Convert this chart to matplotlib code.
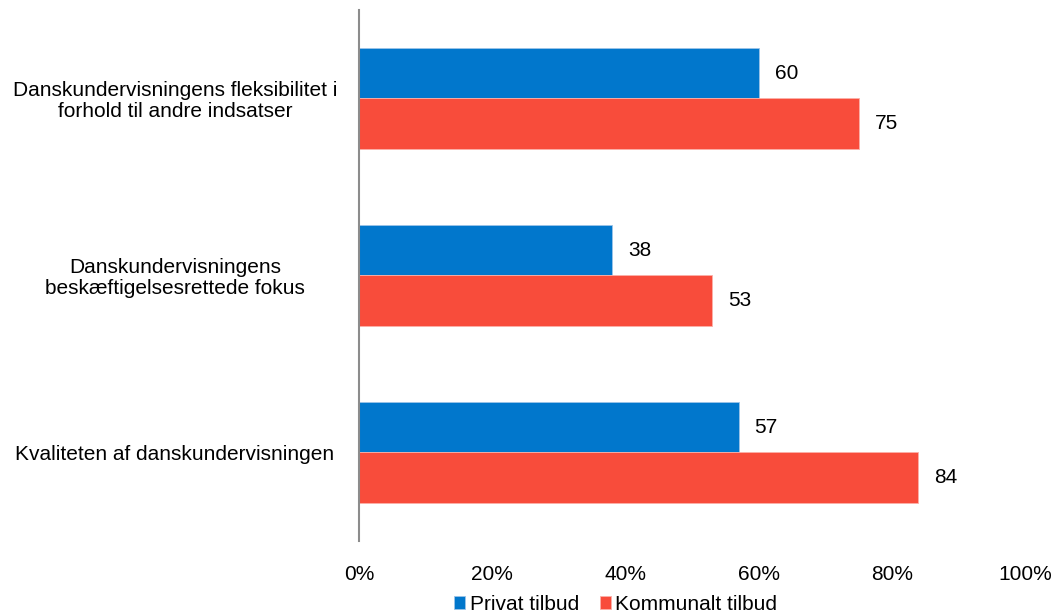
import matplotlib
matplotlib.use('Agg')
import numpy as np
from matplotlib import pyplot as plt

categories = ['Danskundervisningens fleksibilitet i\nforhold til andre indsatser',
              'Danskundervisningens\nbeskæftigelsesrettede fokus',
              'Kvaliteten af danskundervisningen']
privat = [60, 38, 57]
kommunalt = [75, 53, 84]
series_names = ['Privat tilbud', 'Kommunalt tilbud']
colors = ['#0177CC', '#F84C3B']
xticks = [0, 20, 40, 60, 80, 100]

plt.rcParams['font.family'] = ['Liberation Sans', 'DejaVu Sans']
fs = 15

fig = plt.figure(figsize=(10.56, 6.14), dpi=100)
ax = fig.add_axes([359 / 1056, 1 - 541 / 614, 666 / 1056, 531 / 614])

y = np.arange(len(categories))
h = 0.288
b1 = ax.barh(y - h / 2, privat, height=h, color=colors[0], label=series_names[0],
             edgecolor='#9cc4e8', linewidth=0.6)
b2 = ax.barh(y + h / 2, kommunalt, height=h, color=colors[1], label=series_names[1],
             edgecolor='#fbb0a8', linewidth=0.6)

for bars, vals in ((b1, privat), (b2, kommunalt)):
    for rect, v in zip(bars, vals):
        ax.text(v + 2.4, rect.get_y() + rect.get_height() / 2, str(v),
                va='center', ha='left', fontsize=fs)

ax.set_xlim(0, 100)
ax.set_ylim(2.5, -0.5)
ax.set_xticks(xticks)
ax.set_xticklabels([f'{t}%' for t in xticks], fontsize=fs)
ax.set_yticks(y)
ax.set_yticklabels(categories, fontsize=fs, ha='center', multialignment='center',
                   linespacing=1.1)
ax.tick_params(axis='y', length=0, pad=184 * 0.72)
ax.tick_params(axis='x', length=0, pad=17)

for s in ['top', 'right', 'bottom']:
    ax.spines[s].set_visible(False)
ax.spines['left'].set_color('#8c8c8c')
ax.spines['left'].set_linewidth(1.5)

fig.legend(loc='lower center', bbox_to_anchor=(0.583, -0.03), ncol=2, frameon=False,
           fontsize=fs, handlelength=0.55, handleheight=0.55, handletextpad=0.2,
           columnspacing=1.0)

plt.savefig('out.png', dpi=100)
